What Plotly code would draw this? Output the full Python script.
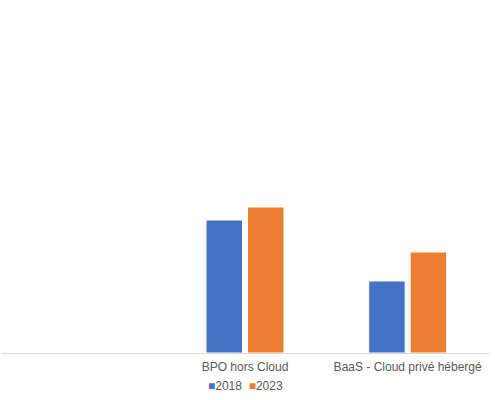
import plotly.graph_objects as go

# catégories (la première n'a pas de libellé visible)
categories = [" ", "BPO hors Cloud", "BaaS - Cloud privé hébergé"]
series_names = ["2018", "2023"]
values_2018 = [None, 13.3, 7.2]
values_2023 = [None, 14.6, 10.1]
colors = ["#4472C4", "#ED7D31"]

fig = go.Figure()
for name, vals, col in zip(series_names, [values_2018, values_2023], colors):
    fig.add_trace(go.Bar(
        x=categories, y=vals, name=name,
        marker=dict(color=col, line=dict(color="#FFFFFF", width=1)),
    ))

# légende compacte façon Excel : petits carrés collés au texte
legend_text = "&nbsp;&nbsp;".join(
    f"<span style='color:{c}'>■</span>{n}" for n, c in zip(series_names, colors)
)
fig.add_annotation(
    text=legend_text, xref="paper", yref="paper", x=0.5, y=-0.095,
    xanchor="center", yanchor="middle", showarrow=False,
    font=dict(size=12, color="#595959"),
)

fig.update_layout(
    width=495,
    height=400,
    barmode="group",
    bargap=0.49,
    bargroupgap=0.12,
    plot_bgcolor="white",
    paper_bgcolor="white",
    margin=dict(l=1, r=6, t=10, b=47),
    font=dict(family="Liberation Sans, Arial, sans-serif", size=12, color="#595959"),
    showlegend=False,
    xaxis=dict(
        automargin=False,
        showline=True, linecolor="#D9D9D9", linewidth=1,
        showgrid=False, ticks="", ticklabelstandoff=3,
        tickfont=dict(size=12, color="#595959"),
    ),
    yaxis=dict(
        automargin=False,
        range=[0, 34.3], showgrid=False, zeroline=False,
        showticklabels=False, showline=False,
    ),
)

# pas de marge par défaut du navigateur autour du graphique
fig.write_html(
    "out.html",
    config={"displayModeBar": False},
    post_script="document.body.style.margin='0';",
)
